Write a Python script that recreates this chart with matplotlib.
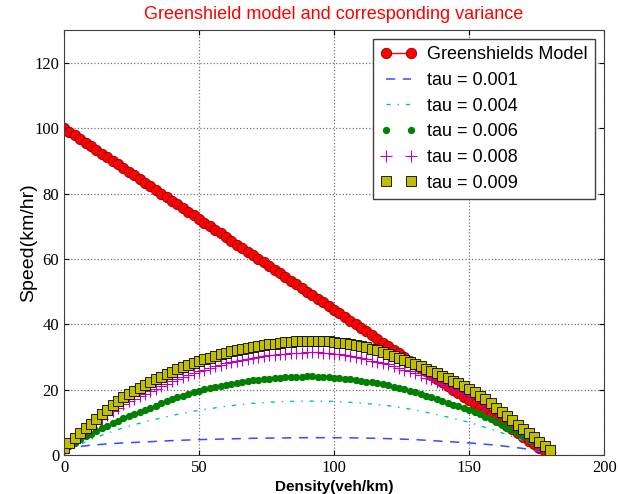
import numpy as np
import matplotlib
matplotlib.use('Agg')
import matplotlib.pyplot as plt

# density grid (veh/km): fine for the marker series, coarse for the plain lines
density = np.arange(0, 181, 2)
density_sparse = np.arange(0, 181, 10)

greenshields_speed = [
    100.0, 98.9, 97.8, 96.7, 95.6, 94.4, 93.3, 92.2, 91.1, 90.0,
    88.9, 87.8, 86.7, 85.6, 84.4, 83.3, 82.2, 81.1, 80.0, 78.9,
    77.8, 76.7, 75.6, 74.4, 73.3, 72.2, 71.1, 70.0, 68.9, 67.8,
    66.7, 65.6, 64.4, 63.3, 62.2, 61.1, 60.0, 58.9, 57.8, 56.7,
    55.6, 54.4, 53.3, 52.2, 51.1, 50.0, 48.9, 47.8, 46.7, 45.6,
    44.4, 43.3, 42.2, 41.1, 40.0, 38.9, 37.8, 36.7, 35.6, 34.4,
    33.3, 32.2, 31.1, 30.0, 28.9, 27.8, 26.7, 25.6, 24.4, 23.3,
    22.2, 21.1, 20.0, 18.9, 17.8, 16.7, 15.6, 14.4, 13.3, 12.2,
    11.1, 10.0, 8.9, 7.8, 6.7, 5.6, 4.4, 3.3, 2.2, 1.1, 0.0,
]

tau_001 = [2.0, 3.0, 3.6, 4.0, 4.4, 4.7, 4.9, 5.1, 5.2, 5.3,
           5.3, 5.2, 5.0, 4.7, 4.2, 3.7, 3.0, 2.0, 0.5]

tau_004 = [1.0, 4.8, 7.8, 10.2, 12.1, 13.7, 14.9, 15.8, 16.3, 16.5,
           16.4, 15.9, 15.1, 13.8, 12.0, 10.0, 7.4, 4.5, 0.8]

tau_006 = [
    1.5, 2.7, 3.8, 4.8, 5.7, 6.5, 7.4, 8.2, 9.0, 9.8,
    10.5, 11.2, 11.9, 12.5, 13.2, 13.8, 14.5, 15.1, 15.8, 16.4,
    17.0, 17.6, 18.1, 18.7, 19.2, 19.7, 20.1, 20.5, 20.8, 21.2,
    21.5, 21.8, 22.1, 22.3, 22.6, 22.8, 23.0, 23.2, 23.4, 23.5,
    23.7, 23.8, 23.9, 24.0, 24.0, 24.1, 24.1, 24.0, 23.9, 23.8,
    23.7, 23.5, 23.3, 23.1, 22.9, 22.7, 22.4, 22.2, 21.9, 21.6,
    21.3, 20.9, 20.5, 20.1, 19.7, 19.2, 18.7, 18.1, 17.6, 17.0,
    16.5, 16.0, 15.4, 14.9, 14.3, 13.8, 13.1, 12.4, 11.7, 10.9,
    10.2, 9.3, 8.4, 7.6, 6.7, 5.8, 4.8, 3.9, 2.9, 2.0, 1.0,
]

tau_008 = [
    2.0, 3.5, 4.9, 6.2, 7.4, 8.5, 9.8, 11.0, 12.2, 13.4,
    14.5, 15.5, 16.4, 17.2, 18.0, 18.8, 19.6, 20.3, 21.1, 21.8,
    22.5, 23.1, 23.8, 24.4, 25.0, 25.6, 26.1, 26.6, 27.1, 27.6,
    28.0, 28.4, 28.8, 29.1, 29.5, 29.8, 30.0, 30.3, 30.5, 30.7,
    30.9, 31.0, 31.1, 31.2, 31.3, 31.4, 31.4, 31.4, 31.3, 31.2,
    31.0, 30.8, 30.5, 30.3, 30.0, 29.7, 29.3, 28.9, 28.5, 28.1,
    27.7, 27.2, 26.7, 26.1, 25.6, 25.0, 24.4, 23.7, 23.1, 22.4,
    21.8, 21.1, 20.4, 19.8, 19.1, 18.4, 17.5, 16.5, 15.4, 14.4,
    13.3, 12.1, 10.9, 9.6, 8.4, 7.2, 6.0, 4.7, 3.5, 2.2, 1.0,
]

tau_009 = [
    2.0, 3.7, 5.3, 6.8, 8.2, 9.5, 11.0, 12.4, 13.8, 15.2,
    16.5, 17.6, 18.6, 19.6, 20.6, 21.5, 22.4, 23.2, 24.0, 24.8,
    25.5, 26.2, 26.9, 27.5, 28.2, 28.8, 29.3, 29.8, 30.3, 30.8,
    31.3, 31.7, 32.1, 32.5, 32.8, 33.1, 33.4, 33.6, 33.9, 34.1,
    34.3, 34.5, 34.6, 34.8, 34.9, 35.0, 35.0, 35.0, 34.9, 34.8,
    34.6, 34.4, 34.2, 33.9, 33.6, 33.3, 32.9, 32.5, 32.0, 31.5,
    31.0, 30.4, 29.8, 29.1, 28.5, 27.8, 27.1, 26.4, 25.7, 25.0,
    24.3, 23.5, 22.7, 21.9, 21.1, 20.2, 19.2, 18.1, 17.0, 15.8,
    14.5, 13.2, 11.9, 10.6, 9.3, 8.0, 6.7, 5.4, 4.1, 2.8, 1.5,
]

plt.rcParams['xtick.direction'] = 'in'
plt.rcParams['ytick.direction'] = 'in'
plt.rcParams['xtick.top'] = True
plt.rcParams['ytick.right'] = True

fig = plt.figure(figsize=(6.18, 4.94), dpi=100)
ax = fig.add_axes([0.1036, 0.079, 0.874, 0.860])

ax.plot(density, greenshields_speed, 'o-', color='red', markersize=7.5,
        markeredgecolor='#8b0000', markeredgewidth=0.6, lw=1,
        label='Greenshields Model')
ax.plot(density_sparse, tau_001, '--', color=(0.2, 0.3, 1.0), lw=1.1,
        dashes=(6, 5), label='tau = 0.001')
ax.plot(density_sparse, tau_004, '-.', color=(0, 0.75, 0.75), lw=1,
        dashes=(3, 5, 1, 5), label='tau = 0.004')
ax.plot(density, tau_006, '.', color=(0, 0.5, 0), markersize=8.5,
        label='tau = 0.006')
ax.plot(density, tau_008, '+', color=(0.75, 0, 0.75), markersize=8,
        markeredgewidth=0.8, label='tau = 0.008')
ax.plot(density, tau_009, 's', color=(0.75, 0.75, 0), markersize=6.5,
        markeredgecolor='k', markeredgewidth=0.6, label='tau = 0.009')

ax.set_xlim(0, 200)
ax.set_ylim(0, 130)
ax.set_xticks([0, 50, 100, 150, 200])
ax.set_yticks([0, 20, 40, 60, 80, 100, 120])
for lbl in ax.get_xticklabels() + ax.get_yticklabels():
    lbl.set_fontfamily('Liberation Serif')
    lbl.set_fontsize(12)
ax.grid(True, linestyle=':', color='0.45', lw=0.9)
for sp in ax.spines.values():
    sp.set_color('0.25')

ax.set_title('Greenshield model and corresponding variance', color='red',
             fontsize=13, family='Liberation Sans', pad=8)
ax.set_xlabel('Density(veh/km)', fontsize=11, fontweight='bold',
              family='Liberation Sans', labelpad=3)
ax.set_ylabel('Speed(km/hr)', fontsize=14, family='Liberation Sans',
              labelpad=-2)

leg = ax.legend(loc='upper right', numpoints=2, fancybox=False,
                prop={'family': 'Liberation Sans', 'size': 13},
                borderaxespad=0.5, handlelength=2.0, handletextpad=0.6,
                labelspacing=0.48)
leg.get_frame().set_edgecolor('0.25')
leg.get_frame().set_alpha(1)

fig.savefig('out.png', dpi=100)
